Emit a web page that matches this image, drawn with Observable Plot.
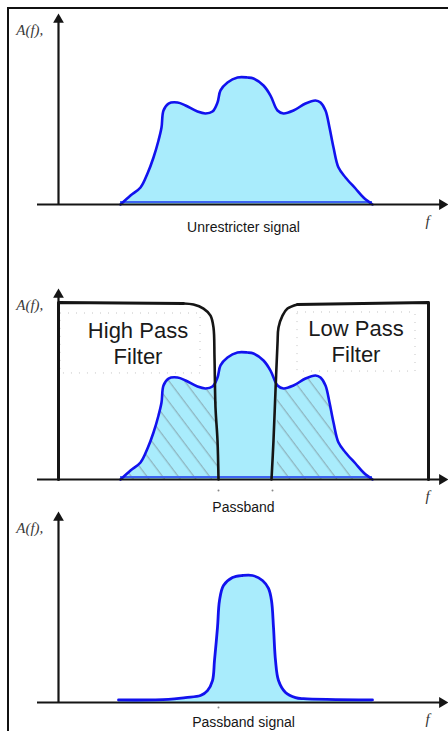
<!DOCTYPE html>
<html><head><meta charset="utf-8">
<script src="https://cdn.jsdelivr.net/npm/d3@7"></script>
<script src="https://cdn.jsdelivr.net/npm/@observablehq/plot@0.6"></script>
<style>
html,body{margin:0;padding:0;background:#fff;}
#chart{position:relative;width:448px;height:731px;overflow:hidden;background:#fff;}
#frame{position:absolute;left:7px;top:7px;width:460px;height:740px;border-left:2px solid #111;border-top:2px solid #111;}
.panel{position:absolute;left:0;}
</style></head><body>
<div id="chart"><div id="frame"></div></div>
<script>
// ---- data (frequency f, amplitude A) ----
const signalF = [2.48,2.88,3.28,3.56,3.80,4.00,4.12,4.20,4.40,4.76,5.08,5.56,5.88,6.16,6.36,6.48,6.76,7.16,7.56,7.80,8.20,8.48,8.76,9.00,9.40,9.88,10.28,10.48,10.68,10.84,11.00,11.20,11.48,11.88,12.20,12.56];
const signalA = [0,0.71,1.34,2.44,3.70,5.04,6.06,7.40,7.95,8.03,7.80,7.32,7.17,7.32,8.03,8.98,9.61,10.0,10.0,9.92,9.37,8.58,7.40,7.17,7.40,7.95,8.19,8.03,7.40,6.06,4.49,2.91,2.13,1.26,0.55,0];

const passF = [2.40,4.40,5.08,5.68,5.96,6.16,6.24,6.36,6.44,6.60,6.96,7.36,7.76,8.16,8.40,8.52,8.60,8.68,8.80,9.08,9.48,9.80,12.56];
const passA = [0.2,0.24,0.39,0.55,0.94,1.73,3.31,5.91,8.03,9.21,9.84,10.0,10.0,9.61,8.98,8.03,5.91,3.31,1.73,0.79,0.39,0.3,0.2];

const highPassF = [0,0,5.0,5.4,5.8,6.08,6.2,6.24,6.28,6.36,6.4];
const highPassA = [0,13.94,13.86,13.78,13.46,12.91,11.97,9.61,5.67,3.07,0];
const lowPassF = [8.52,8.6,8.68,8.76,8.8,8.96,9.16,9.56,14.8,14.8];
const lowPassA = [0,3.07,7.01,10.71,11.97,12.91,13.46,13.78,13.94,0];

const captions = ["Unrestricter signal", "Passband", "Passband signal"];
const filterLabels = ["High Pass\nFilter", "Low Pass\nFilter"];
const filterLabelF = [3.18, 11.9];
const filterLabelA = [10.76, 10.92];
const passbandEdges = [6.4, 8.56];

// ---- helpers ----
const pts = (F, A) => F.map((f, i) => ({f, a: A[i]}));
const signal = pts(signalF, signalA);
const passSignal = pts(passF, passA);
const highPass = pts(highPassF, highPassA);
const lowPass = pts(lowPassF, lowPassA);

const FILL = "#a9ecfc";
const BLUE = "#1212ee";
const BASEBLUE = "#3d64f2";
const INK = "#151515";
const SANS = "Liberation Sans, Arial, Helvetica, sans-serif";
const SERIF = "Liberation Serif, Times New Roman, serif";

const xDomain = [-2.32, 15.6];

function axisMarks(caption, captionDy) {
  return [
    Plot.ruleY([{a: 0, f1: -0.84, f2: 15.3}], {y: "a", x1: "f1", x2: "f2", stroke: INK, strokeWidth: 2.2}),
    Plot.ruleX([{f: 0, a1: 0, a2: 14.6}], {x: "f", y1: "a1", y2: "a2", stroke: INK, strokeWidth: 2.2}),
    Plot.dot([{f: 0, a: 14.55}], {x: "f", y: "a", symbol: "triangle", r: 4, fill: INK, stroke: "none"}),
    Plot.dot([{f: 15.35, a: 0}], {x: "f", y: "a", symbol: "triangle", rotate: 90, r: 4, fill: INK, stroke: "none"}),
    Plot.text(["A(f),"], {x: -1.15, y: 13.7, text: d => d, fontStyle: "italic", fontFamily: SERIF, fontSize: 15, fill: "#3a3a3a"}),
    Plot.text(["f"], {x: 14.76, y: 0, dy: 17, text: d => d, fontStyle: "italic", fontFamily: SERIF, fontSize: 15, fill: "#333"}),
    Plot.text([caption], {x: 7.4, y: 0, dy: captionDy, text: d => d, fontFamily: SANS, fontSize: 14, fill: "#161616"})
  ];
}

function makePlot(height, baseline, marks) {
  return Plot.plot({
    width: 448, height, margin: 0,
    x: {domain: xDomain, range: [0, 448], axis: null},
    y: {domain: [0, 10], range: [baseline, baseline - 127], axis: null},
    style: {background: "transparent", overflow: "visible"},
    marks
  });
}

// ---- panel 1 ----
const p1 = makePlot(250, 204, [
  Plot.areaY(signal, {x: "f", y: "a", fill: FILL, curve: "catmull-rom"}),
  Plot.ruleY([{a: 0.2}], {y: "a", x1: signalF[0], x2: signalF[signalF.length - 1], stroke: BASEBLUE, strokeWidth: 2}),
  Plot.line(signal, {x: "f", y: "a", stroke: BLUE, strokeWidth: 2.6, curve: "catmull-rom"}),
  ...axisMarks(captions[0], 23)
]);

// ---- panel 2 ----
const p2 = makePlot(255, 229, [
  Plot.rect([{f1: 0.08, f2: 5.68, a1: 8.35, a2: 13.07}, {f1: 9.56, f2: 14.28, a1: 8.5, a2: 13.15}],
    {x1: "f1", x2: "f2", y1: "a1", y2: "a2", fill: "none", stroke: "#c4c4c4", strokeWidth: 1, strokeDasharray: "1,7"}),
  Plot.areaY(signal, {x: "f", y: "a", fill: FILL, curve: "catmull-rom"}),
  Plot.areaY(signal.filter(d => d.f <= 6.36), {x: "f", y: "a", fill: "url(#hatch)", curve: "catmull-rom"}),
  Plot.areaY(signal.filter(d => d.f >= 8.76), {x: "f", y: "a", fill: "url(#hatch)", curve: "catmull-rom"}),
  Plot.ruleY([{a: 0.2}], {y: "a", x1: signalF[0], x2: signalF[signalF.length - 1], stroke: BASEBLUE, strokeWidth: 2}),
  Plot.line(signal, {x: "f", y: "a", stroke: BLUE, strokeWidth: 2.6, curve: "catmull-rom"}),
  ...axisMarks(captions[1], 28),
  Plot.line(highPass.slice(0, 3), {x: "f", y: "a", stroke: INK, strokeWidth: 3}),
  Plot.line(highPass.slice(2), {x: "f", y: "a", stroke: INK, strokeWidth: 2.6, curve: "catmull-rom"}),
  Plot.line(lowPass.slice(0, 8), {x: "f", y: "a", stroke: INK, strokeWidth: 2.6, curve: "catmull-rom"}),
  Plot.line(lowPass.slice(7), {x: "f", y: "a", stroke: INK, strokeWidth: 3}),
  Plot.text(filterLabels, {x: (d, i) => filterLabelF[i], y: (d, i) => filterLabelA[i], text: d => d,
    fontFamily: SANS, fontSize: 22, lineHeight: 1.2, fill: "#1a1a1a"}),
  Plot.dot(passbandEdges, {x: d => d, y: 0, dy: 11, r: 1, fill: "#888", stroke: "none"})
]);

// hatch pattern definition
{
  const ns = "http://www.w3.org/2000/svg";
  const defs = document.createElementNS(ns, "defs");
  const pat = document.createElementNS(ns, "pattern");
  pat.setAttribute("id", "hatch");
  pat.setAttribute("patternUnits", "userSpaceOnUse");
  pat.setAttribute("width", "12.5");
  pat.setAttribute("height", "12.5");
  pat.setAttribute("patternTransform", "rotate(-37)");
  const ln = document.createElementNS(ns, "line");
  ln.setAttribute("x1", "6"); ln.setAttribute("x2", "6");
  ln.setAttribute("y1", "-1"); ln.setAttribute("y2", "14");
  ln.setAttribute("stroke", "#86a4ad");
  ln.setAttribute("stroke-width", "1");
  pat.appendChild(ln);
  defs.appendChild(pat);
  p2.insertBefore(defs, p2.firstChild);
}

// ---- panel 3 ----
const p3 = makePlot(226, 197, [
  Plot.areaY(passSignal, {x: "f", y: "a", fill: FILL, curve: "catmull-rom"}),
  ...axisMarks(captions[2], 20),
  Plot.line(passSignal, {x: "f", y: "a", stroke: BLUE, strokeWidth: 2.8, curve: "catmull-rom"}),
  Plot.dot([passbandEdges[0]], {x: d => d, y: 0, dy: 5, r: 1, fill: "#888", stroke: "none"})
]);

const chart = document.getElementById("chart");
[[p1, 0], [p2, 250], [p3, 505]].forEach(([svg, top]) => {
  svg.classList.add("panel");
  svg.style.top = top + "px";
  svg.style.position = "absolute";
  svg.style.left = "0px";
  chart.appendChild(svg);
});
</script></body></html>
